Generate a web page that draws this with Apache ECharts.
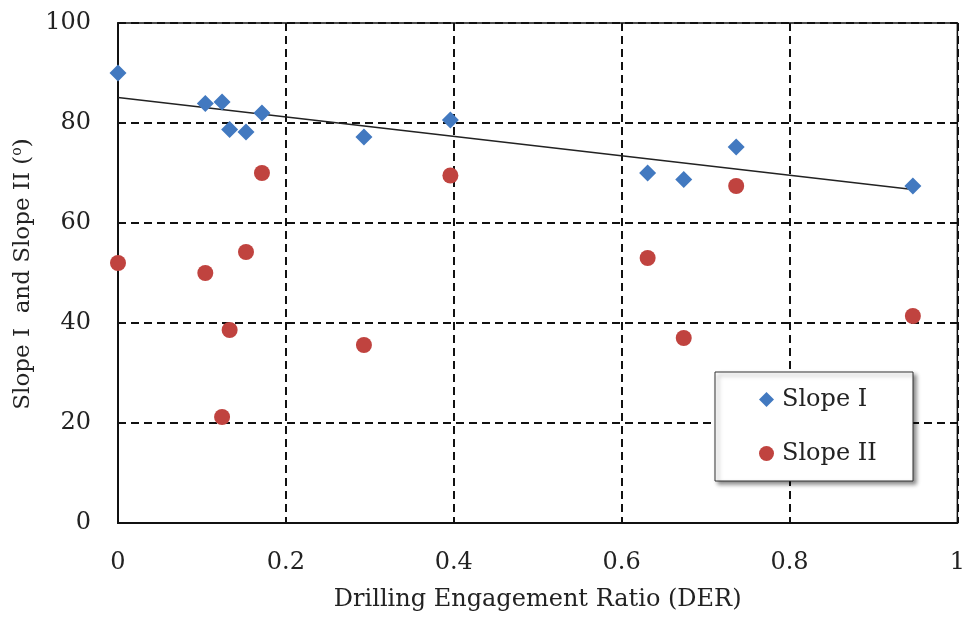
<!DOCTYPE html>
<html>
<head>
<meta charset="utf-8">
<script src="https://cdn.jsdelivr.net/npm/echarts@6/dist/echarts.min.js"></script>
<style>
html,body{margin:0;padding:0;background:#fff;}
#chart{width:968px;height:617px;}
</style>
</head>
<body>
<div id="chart"></div>
<script>
// Drilling Engagement Ratio values (shared by both series)
const der = [0, 0.104, 0.124, 0.133, 0.1525, 0.1715, 0.293, 0.396, 0.631, 0.674, 0.7365, 0.947];
const slopeI = [90.0, 83.9, 84.2, 78.7, 78.2, 82.0, 77.2, 80.6, 70.0, 68.7, 75.2, 67.4];
const slopeII = [52.0, 50.0, 21.2, 38.6, 54.2, 70.0, 35.6, 69.5, 53.0, 37.0, 67.4, 41.4];
// Linear trend line of Slope I, endpoints
const trendX = [0, 0.947];
const trendY = [85.1, 66.7];
const xTicks = [0, 0.2, 0.4, 0.6, 0.8, 1];
const yTicks = [0, 20, 40, 60, 80, 100];
const seriesNames = ['Slope I', 'Slope II'];
const xTitle = 'Drilling Engagement Ratio (DER)';
const yTitleMain = 'Slope I  and Slope II (';
const yTitleSup = 'o';
const yTitleEnd = ')';

const FONT = 'DejaVu Serif';
const FS = 24;
const pairs = (xs, ys) => xs.map((x, i) => [x, ys[i]]);

const chart = echarts.init(document.getElementById('chart'), null, {renderer: 'canvas'});
chart.setOption({
  animation: false,
  backgroundColor: '#fff',
  grid: {
    left: 118, right: 8, top: 23, bottom: 93,
    show: true, borderColor: '#111', borderWidth: 1.5, backgroundColor: 'transparent'
  },
  xAxis: {
    type: 'value',
    min: xTicks[0], max: xTicks[xTicks.length - 1], interval: 0.2,
    name: xTitle, nameLocation: 'middle', nameGap: 65,
    nameTextStyle: {fontFamily: FONT, fontSize: FS, color: '#222'},
    axisLine: {show: true, onZero: false, lineStyle: {color: '#111', width: 2}},
    axisTick: {show: true, inside: true, length: 6, lineStyle: {color: '#111', width: 2}},
    axisLabel: {
      fontFamily: FONT, fontSize: FS, color: '#222', margin: 28,
      formatter: v => (xTicks.includes(+v.toFixed(1)) ? String(+v.toFixed(1)) : '')
    },
    splitLine: {show: true, lineStyle: {color: '#111', width: 2, type: [8, 5]}}
  },
  yAxis: {
    type: 'value',
    min: yTicks[0], max: yTicks[yTicks.length - 1], interval: 20,
    axisLine: {show: true, onZero: false, lineStyle: {color: '#111', width: 2}},
    axisTick: {show: true, inside: true, length: 6, lineStyle: {color: '#111', width: 2}},
    axisLabel: {fontFamily: FONT, fontSize: FS, color: '#222', margin: 27},
    splitLine: {show: true, lineStyle: {color: '#111', width: 2, type: [8, 5]}}
  },
  legend: {
    show: true,
    orient: 'vertical',
    left: 759, top: 386,
    itemWidth: 15, itemHeight: 15, itemGap: 27,
    padding: 0,
    z: 20,
    textStyle: {fontFamily: FONT, fontSize: FS, color: '#222', lineHeight: 27, padding: [0, 0, 0, 3]},
    data: [
      {name: seriesNames[0], icon: 'diamond'},
      {name: seriesNames[1], icon: 'circle'}
    ]
  },
  graphic: [
    {
      type: 'rect', z: 10,
      shape: {x: 715, y: 372, width: 198, height: 109},
      style: {
        fill: '#fff', stroke: '#333', lineWidth: 1,
        shadowBlur: 4, shadowOffsetX: 3, shadowOffsetY: 3, shadowColor: 'rgba(0,0,0,0.45)'
      }
    },
    {
      type: 'text', z: 10,
      x: 23, y: 274, rotation: Math.PI / 2,
      style: {
        text: '{a|' + yTitleMain + '}{s|' + yTitleSup + '}{a|' + yTitleEnd + '}',
        align: 'center', verticalAlign: 'middle',
        rich: {
          a: {fontFamily: FONT, fontSize: FS - 1, fill: '#222', color: '#222', lineHeight: 26, verticalAlign: 'middle'},
          s: {fontFamily: FONT, fontSize: 14, fill: '#222', color: '#222', lineHeight: 26, verticalAlign: 'top', padding: [0, 0, 6, 0]}
        }
      }
    }
  ],
  series: [
    {
      name: 'trend', type: 'line', data: pairs(trendX, trendY),
      showSymbol: false, symbol: 'none', silent: true, z: 1,
      lineStyle: {color: '#222', width: 1.5}
    },
    {
      name: seriesNames[0], type: 'scatter', data: pairs(der, slopeI),
      symbol: 'diamond', symbolSize: [17, 17], z: 3,
      itemStyle: {color: '#4279C0', opacity: 1}
    },
    {
      name: seriesNames[1], type: 'scatter', data: pairs(der, slopeII),
      symbol: 'circle', symbolSize: 16, z: 3,
      itemStyle: {color: '#C0433F', opacity: 1}
    }
  ]
});
</script>
</body>
</html>
